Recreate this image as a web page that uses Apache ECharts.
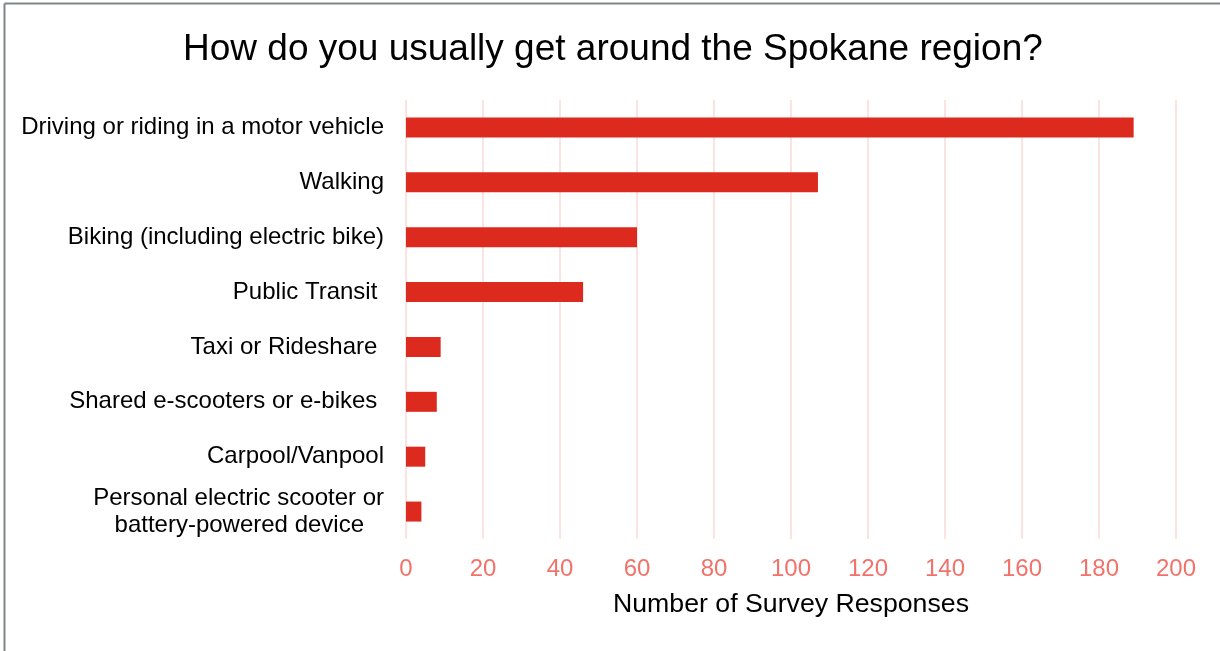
<!DOCTYPE html>
<html>
<head>
<meta charset="utf-8">
<script src="https://cdn.jsdelivr.net/npm/echarts@6/dist/echarts.min.js"></script>
<style>
  html, body { margin: 0; padding: 0; background: #ffffff; }
  #chart { width: 1220px; height: 651px; }
</style>
</head>
<body>
<div id="chart"></div>
<script>
// Survey: usual ways of getting around the Spokane region
const titleText = 'How do you usually get around the Spokane region?';
const axisTitle = 'Number of Survey Responses';

const categories = [
  'Driving or riding in a motor vehicle',
  'Walking',
  'Biking (including electric bike)',
  'Public Transit ',
  'Taxi or Rideshare ',
  'Shared e-scooters or e-bikes ',
  'Carpool/Vanpool',
  'Personal electric scooter or\nbattery-powered device'
];

const responses = [189, 107, 60, 46, 9, 8, 5, 4];

const xMin = 0;
const xMax = 200;
const xStep = 20;

const FONT = '"Liberation Sans", Arial, sans-serif';

const chart = echarts.init(document.getElementById('chart'), null, { renderer: 'canvas' });

chart.setOption({
  backgroundColor: '#ffffff',
  animation: false,
  textStyle: { fontFamily: FONT },
  title: {
    text: titleText,
    left: 183,
    top: 31,
    padding: 0,
    textStyle: { fontFamily: FONT, fontSize: 37, fontWeight: 'normal', color: '#000000' }
  },
  graphic: [
    { type: 'line', shape: { x1: 4.5, y1: 3.5, x2: 1220, y2: 3.5 }, style: { stroke: '#7d8787', lineWidth: 2 } },
    { type: 'line', shape: { x1: 4.5, y1: 3.5, x2: 4.5, y2: 651 }, style: { stroke: '#7d8787', lineWidth: 2 } }
  ],
  grid: { left: 406, right: 44, top: 100, bottom: 112, containLabel: false },
  xAxis: {
    type: 'value',
    min: xMin,
    max: xMax,
    interval: xStep,
    name: axisTitle,
    nameLocation: 'middle',
    nameGap: 52,
    nameTextStyle: { fontFamily: FONT, fontSize: 26.7, color: '#000000' },
    axisLine: { show: false },
    axisTick: { show: false },
    axisLabel: { fontFamily: FONT, fontSize: 24, color: '#f2726b', margin: 18 },
    splitLine: { show: true, lineStyle: { color: '#fadad8', width: 1.5 } }
  },
  yAxis: {
    type: 'category',
    data: categories,
    inverse: true,
    axisLine: { show: false },
    axisTick: { show: false },
    axisLabel: {
      margin: 22,
      fontFamily: FONT,
      fontSize: 24,
      color: '#000000',
      lineHeight: 27,
      formatter: function (value) {
        const lines = value.split('\n');
        if (lines.length === 1) return value;
        return lines.map(function (l, i) { return (i === 0 ? '{a|' : '{b|') + l + '}'; }).join('\n');
      },
      rich: {
        a: { fontFamily: FONT, fontSize: 24, color: '#000000', lineHeight: 27 },
        b: { fontFamily: FONT, fontSize: 24, color: '#000000', lineHeight: 27, padding: [0, 20, 0, 0] }
      }
    }
  },
  series: [{
    type: 'bar',
    data: responses,
    barWidth: 20,
    itemStyle: { color: '#dc2a1e' }
  }]
});
</script>
</body>
</html>
